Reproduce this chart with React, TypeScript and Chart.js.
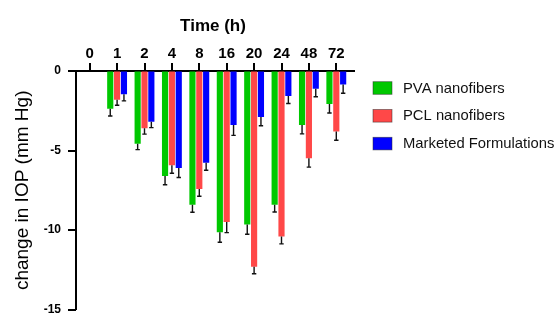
import React, { useEffect, useRef } from 'react';
import { Chart, registerables } from 'chart.js';

Chart.register(...registerables);

// ---- data ----
const timeLabels = ['0', '1', '2', '4', '8', '16', '20', '24', '48', '72'];
const seriesNames = ['PVA nanofibers', 'PCL nanofibers', 'Marketed Formulations'];
const pvaValues = [0, -2.38, -4.57, -6.6, -8.41, -10.14, -9.65, -8.41, -3.4, -2.07];
const pvaErrors = [0, 0.45, 0.37, 0.55, 0.47, 0.63, 0.61, 0.45, 0.55, 0.57];
const pclValues = [0, -1.8, -3.6, -5.93, -7.42, -9.49, -12.3, -10.4, -5.49, -3.8];
const pclErrors = [0, 0.35, 0.37, 0.5, 0.45, 0.67, 0.45, 0.47, 0.55, 0.55];
const mktValues = [0, -1.46, -3.19, -6.1, -5.77, -3.4, -2.89, -1.57, -1.12, -0.85];
const mktErrors = [0, 0.42, 0.37, 0.6, 0.47, 0.65, 0.55, 0.47, 0.5, 0.55];
const yTickValues = [0, -5, -10, -15];

const seriesColors = ['rgb(0,200,0)', 'rgb(255,72,72)', 'rgb(0,0,255)'];
const FONT = "'Liberation Sans', Arial, Helvetica, sans-serif";

const errorBarPlugin = {
  id: 'errorBars',
  afterDatasetsDraw(chart: any) {
    const { ctx, chartArea } = chart;
    const xs = chart.scales.x;
    const yScale = chart.scales.y;
    ctx.save();
    ctx.strokeStyle = '#111';
    ctx.lineWidth = 1.4;
    chart.data.datasets.forEach((ds: any, di: number) => {
      const meta = chart.getDatasetMeta(di);
      const errs: number[] = ds.errors || [];
      meta.data.forEach((bar: any, i: number) => {
        const v = ds.data[i];
        const e = errs[i];
        if (!e || v === null || v === undefined) return;
        const yStart = yScale.getPixelForValue(v);
        const yEnd = yScale.getPixelForValue(v - e);
        ctx.beginPath();
        ctx.moveTo(bar.x, yStart);
        ctx.lineTo(bar.x, yEnd);
        ctx.moveTo(bar.x - 2.2, yEnd);
        ctx.lineTo(bar.x + 2.2, yEnd);
        ctx.stroke();
      });
    });
    // axis tick marks (category axis on top pointing up, value axis pointing left)
    ctx.fillStyle = '#000';
    for (let i = 0; i < timeLabels.length; i++) {
      const x = xs.getPixelForValue(i);
      ctx.fillRect(Math.round(x) - 1, chartArea.top - 8, 2, 8);
    }
    for (const v of yTickValues) {
      const y = yScale.getPixelForValue(v);
      ctx.fillRect(chartArea.left - 8, Math.round(y) - 1, 8, 2);
    }
    // small extension of the top axis line past the last category
    ctx.fillRect(chartArea.right - 1, chartArea.top - 1, 6, 2);
    ctx.restore();
  },
};

const customLegendPlugin = {
  id: 'customLegend',
  afterDraw(chart: any) {
    const { ctx, chartArea } = chart;
    ctx.save();
    ctx.font = `14.8px ${FONT}`;
    ctx.textBaseline = 'middle';
    ctx.textAlign = 'left';
    chart.data.datasets.forEach((ds: any, i: number) => {
      const cy = chartArea.top + 17 + i * 27.8;
      const bx = chartArea.right + 23;
      ctx.fillStyle = ds.backgroundColor;
      ctx.fillRect(bx, cy - 6.3, 19, 12.6);
      ctx.strokeStyle = 'rgba(40,40,40,0.6)';
      ctx.lineWidth = 0.8;
      ctx.strokeRect(bx, cy - 6.3, 19, 12.6);
      ctx.fillStyle = '#111';
      ctx.fillText(ds.label, bx + 30, cy + 0.5);
    });
    ctx.restore();
  },
};

export default function App() {
  const ref = useRef<HTMLCanvasElement | null>(null);

  useEffect(() => {
    if (!ref.current) return;
    Chart.defaults.font.family = FONT;
    const mk = (i: number, data: number[], errors: number[]) => ({
      label: seriesNames[i],
      data,
      errors,
      backgroundColor: seriesColors[i],
      borderWidth: 0,
      barPercentage: 0.9,
      categoryPercentage: 0.75,
    });
    const chart = new Chart(ref.current, {
      type: 'bar',
      data: {
        labels: timeLabels,
        datasets: [
          mk(0, pvaValues, pvaErrors),
          mk(1, pclValues, pclErrors),
          mk(2, mktValues, mktErrors),
        ] as any,
      },
      options: {
        responsive: true,
        maintainAspectRatio: false,
        animation: false,
        layout: { padding: { left: 0, top: 0, right: 207, bottom: 5 } },
        plugins: {
          legend: { display: false },
          tooltip: { enabled: false },
        },
        scales: {
          x: {
            position: 'top',
            offset: true,
            grid: {
              display: true,
              drawOnChartArea: false,
              drawTicks: true,
              tickLength: 8,
              tickWidth: 0,
              offset: false,
            },
            border: { display: true, color: '#000', width: 2 },
            ticks: {
              color: '#000',
              font: { family: FONT, size: 15, weight: 'bold' },
              padding: 0,
              maxRotation: 0,
              autoSkip: false,
            },
            title: {
              display: true,
              text: 'Time (h)',
              color: '#000',
              font: { family: FONT, size: 17, weight: 'bold' },
              padding: { top: 16, bottom: 0 },
            },
            afterFit: (s: any) => {
              s.height = 71;
            },
          },
          y: {
            min: -15,
            max: 0,
            afterBuildTicks: (s: any) => {
              s.ticks = yTickValues.map((v) => ({ value: v }));
            },
            ticks: {
              color: '#000',
              font: { family: FONT, size: 12, weight: 'bold', lineHeight: 0.9 },
              padding: 7,
            },
            grid: {
              display: true,
              drawOnChartArea: false,
              drawTicks: true,
              tickLength: 8,
              tickWidth: 0,
            },
            border: { display: true, color: '#000', width: 2 },
            title: {
              display: true,
              text: 'change in IOP (mm Hg)',
              color: '#000',
              font: { family: FONT, size: 19 },
              padding: { top: 11, bottom: 0 },
            },
            afterFit: (s: any) => {
              s.width = 76;
            },
          },
        },
      } as any,
      plugins: [errorBarPlugin, customLegendPlugin],
    });
    return () => chart.destroy();
  }, []);

  return (
    <div style={{ position: 'absolute', left: 0, top: 0, width: 557, height: 322, background: '#fff' }}>
      <canvas ref={ref} />
    </div>
  );
}
